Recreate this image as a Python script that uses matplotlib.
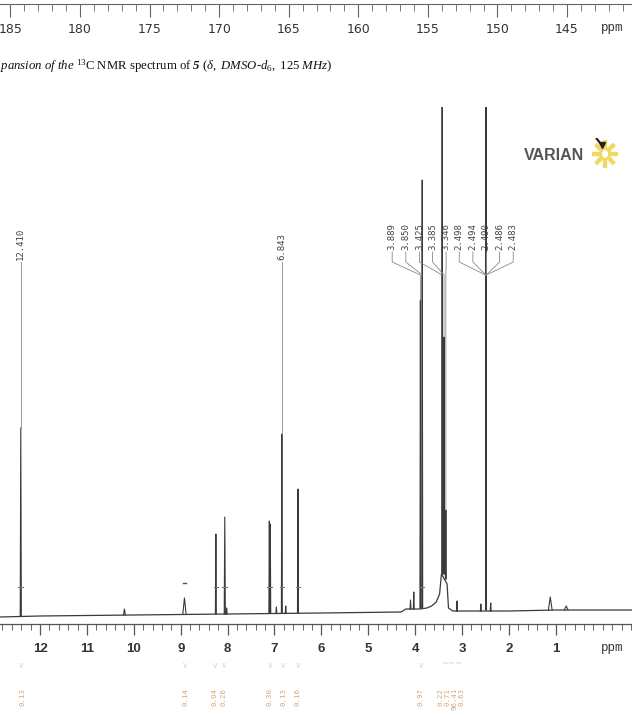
import matplotlib.pyplot as plt
from matplotlib.ticker import MultipleLocator
from matplotlib.transforms import blended_transform_factory

plt.rcParams['mathtext.fontset'] = 'custom'
plt.rcParams['mathtext.rm'] = 'Liberation Serif'
plt.rcParams['mathtext.it'] = 'Liberation Serif:italic'
plt.rcParams['mathtext.bf'] = 'Liberation Serif:bold:italic'

# 1H spectrum (intensity = height above the ppm ruler)
base_ppm = [12.85, 12.0, 10.0, 8.0, 6.0, 4.3, 4.2, 3.9, 3.75, 3.65, 3.55, 3.48, 3.44,
            3.32, 3.29, 3.2, 2.0, 1.0, -0.62]
base_int = [7, 8, 9, 10, 11, 12, 15, 15, 16, 18, 22, 30, 50, 40, 16, 13, 13, 14, 14]

peak_ppm = [12.41, 10.20, 8.92, 8.25, 8.06, 8.02, 7.11, 7.09, 6.96, 6.843, 6.76, 6.50,
            4.10, 4.03, 3.889, 3.850, 3.425, 3.385, 3.346, 3.11, 2.60, 2.490, 2.39, 1.12, 0.78]
peak_top = [196, 15, 26, 90, 107, 16, 103, 100, 17, 190, 18, 135,
            24, 32, 324, 444, 600, 287, 114, 23, 20, 600, 21, 27, 18]
peak_base = [8, 9, 10, 10, 10, 10, 11, 11, 11, 11, 11, 11,
             15, 15, 16, 16, 50, 50, 45, 13, 13, 14, 13, 14, 14]
peak_hw = [0.012, 0.02, 0.035, 0.01, 0.012, 0.01, 0.01, 0.01, 0.01, 0.01, 0.01, 0.01,
           0.01, 0.01, 0.01, 0.01, 0.01, 0.01, 0.01, 0.01, 0.01, 0.01, 0.01, 0.04, 0.04]

# peak picking labels
single_ppm = [12.41, 6.843]
single_txt = ['12.410', '6.843']
single_top = [196, 190]

mult_ppm = [3.889, 3.850, 3.425, 3.385, 3.346, 2.498, 2.494, 2.490, 2.486, 2.483]
mult_txt = ['3.889', '3.850', '3.425', '3.385', '3.346', '2.498', '2.494', '2.490', '2.486', '2.483']
mult_lab = [4.49, 4.20, 3.91, 3.63, 3.34, 3.06, 2.77, 2.49, 2.20, 1.91]
mult_top = [324, 444, 600, 287, 114, 600, 600, 600, 600, 600]

# integrals
integ_ppm = [12.38, 8.89, 8.27, 8.08, 7.10, 6.80, 6.50, 3.88, 3.47, 3.32, 3.17, 3.02]
integ_txt = ['0.13', '0.14', '0.04', '0.26', '0.30', '0.13', '0.16', '0.97',
             '0.22', '0.71', '96.41', '0.63']
integ_mark = [12.41, 8.25, 8.06, 7.10, 6.843, 6.50, 3.87]

# 13C expansion ruler
c13_ticks = [185, 180, 175, 170, 165, 160, 155, 150, 145]
h1_ticks = [12, 11, 10, 9, 8, 7, 6, 5, 4, 3, 2, 1]

fig = plt.figure(figsize=(6.32, 7.16), dpi=100)
fig.patch.set_facecolor('white')

# ---- top ruler (leftover of the 13C page)
axt = fig.add_axes([0, 1 - 4 / 716, 1, 0.0005])
axt.set_xlim(185.75, 140.33)
axt.set_yticks([])
for s in ['left', 'right', 'top']:
    axt.spines[s].set_visible(False)
axt.spines['bottom'].set_color('#666')
axt.spines['bottom'].set_linewidth(0.8)
axt.set_xticks(c13_ticks)
axt.set_xticklabels([str(t) for t in c13_ticks])
axt.xaxis.set_minor_locator(MultipleLocator(1))
axt.tick_params(axis='x', which='major', length=9, width=0.8, color='#666', pad=5,
                labelsize=9, labelcolor='#333')
axt.tick_params(axis='x', which='minor', length=5, width=0.7, color='#777')
fig.text(612 / 632, 1 - 28 / 716, 'ppm', family='Liberation Mono', fontsize=9,
         color='#333', ha='center', va='center')

# caption
fig.text(0.0, 1 - 66 / 716,
         r"$\mathit{pansion\ of\ the}$ $^{13}$C NMR spectrum of $\mathbf{5}$ "
         r"$\mathit{(\delta,\ DMSO}$-$\mathit{d_6,\ 125\ MHz)}$",
         family='Liberation Serif', fontsize=9.2, color='#111', ha='left', va='center')

# ---- main 1H spectrum
ax = fig.add_axes([0, 1 - 624 / 716, 1, (624 - 107) / 716])
ax.set_xlim(12.853, -0.623)
ax.set_ylim(0, 517)
ax.set_yticks([])
for s in ['left', 'right', 'top']:
    ax.spines[s].set_visible(False)
ax.spines['bottom'].set_color('#555')
ax.spines['bottom'].set_linewidth(0.9)
ax.set_xticks(h1_ticks)
ax.set_xticklabels([str(t) for t in h1_ticks])
ax.xaxis.set_minor_locator(MultipleLocator(0.2))
ax.tick_params(axis='x', which='major', length=8, width=0.9, color='#555', pad=6,
               labelsize=9.5, labelcolor='#333')
ax.tick_params(axis='x', which='minor', length=4, width=0.7, color='#666')
for lab in ax.get_xticklabels():
    lab.set_fontweight('bold')
    lab.set_family('Liberation Sans')

line_c = '#3a3a3a'
ax.plot(base_ppm, base_int, color=line_c, lw=0.9)
for p, t, b, w in zip(peak_ppm, peak_top, peak_base, peak_hw):
    ax.plot([p + w, p, p - w], [b, t, b], color=line_c, lw=0.8)

# integral region marks crossing the peaks
for p in integ_mark:
    ax.plot([p + 0.05, p - 0.05], [37, 37], color='#777', lw=0.8)
ax.plot([8.96, 8.88], [41, 41], color='#555', lw=1.0)

# peak labels
lead_c = '#8a8a8a'
for p, t, top in zip(single_ppm, single_txt, single_top):
    ax.text(p, 364, t, rotation=90, ha='center', va='bottom', family='DejaVu Sans Mono',
            fontsize=6.5, color='#444')
    ax.plot([p, p], [362, top], color=lead_c, lw=0.6)

for p, t, lx, top in zip(mult_ppm, mult_txt, mult_lab, mult_top):
    ax.text(lx, 374, t, rotation=90, ha='center', va='bottom', family='DejaVu Sans Mono',
            fontsize=6.5, color='#444')
    ax.plot([lx, lx, p, p], [372, 362, 349, min(top, 349)], color=lead_c, lw=0.6)

trans = blended_transform_factory(ax.transData, fig.transFigure)
ax.text(-0.19, 1 - 648 / 716, 'ppm', transform=trans, family='Liberation Mono', fontsize=9,
        color='#333', ha='center', va='center')

# faint integral brackets and values
for p in [12.41, 8.90, 8.27, 8.07, 7.10, 6.82, 6.50, 3.88]:
    ax.text(p, 1 - 665 / 716, 'v', transform=trans, fontsize=5.5, color='#e3cdb4',
            ha='center', va='center')
ax.text(3.22, 1 - 664 / 716, '~~~', transform=trans, fontsize=6, color='#e3cdb4',
        ha='center', va='center')
for p, t in zip(integ_ppm, integ_txt):
    ax.text(p, 1 - 688 / 716, t, transform=trans, rotation=90, ha='center', va='top',
            family='DejaVu Sans Mono', fontsize=5.3, color='#d7a676')

# ---- Varian logo
fig.text(554 / 632, 1 - 155 / 716, 'VARIAN', family='Liberation Sans', fontweight='bold',
         fontsize=11.5, color='#555', ha='center', va='center')
axl = fig.add_axes([590 / 632, 1 - 170 / 716, 30 / 632, 32 / 716])
axl.set_xlim(-1, 1)
axl.set_ylim(-1, 1)
axl.axis('off')
star_dx = [0.0, 0.62, 0.88, 0.62, 0.0, -0.62, -0.88, -0.62]
star_dy = [0.88, 0.62, 0.0, -0.62, -0.88, -0.62, 0.0, 0.62]
for dx, dy in zip(star_dx, star_dy):
    axl.plot([0.25 * dx, dx], [0.25 * dy, dy], color='#efd964', lw=3.2, solid_capstyle='butt')
axl.plot([-0.55, -0.2], [0.95, 0.55], color='#222', lw=1.6)
axl.plot([-0.2], [0.55], marker='v', color='#222', ms=5)

fig.savefig('out.png', dpi=100)
